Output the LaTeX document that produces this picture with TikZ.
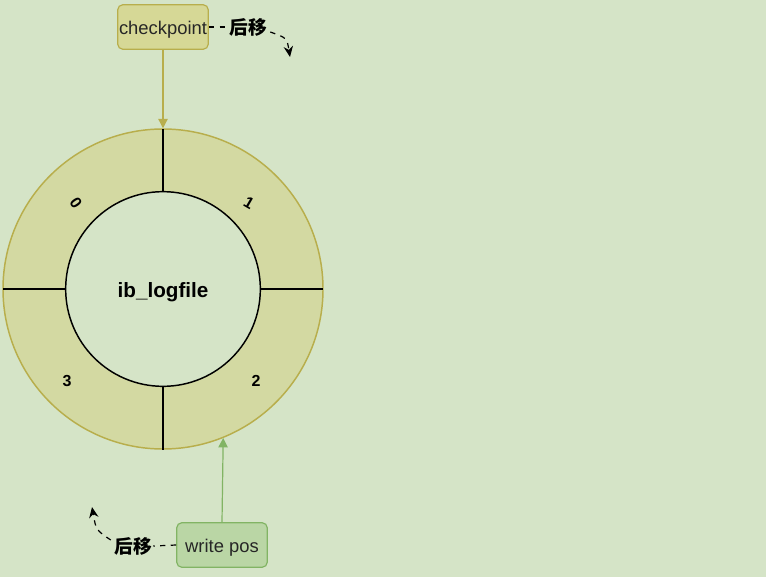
\documentclass[tikz,border=0pt]{standalone}
\usepackage{fontspec}
\setmainfont{Liberation Sans}
\newfontfamily\cjk{Noto Sans CJK SC}
\usetikzlibrary{arrows.meta}
\definecolor{bg}{RGB}{213,228,199}
\definecolor{ringfill}{RGB}{211,217,162}
\definecolor{ringline}{RGB}{184,174,76}
\definecolor{cpfill}{RGB}{214,216,150}
\definecolor{wpfill}{RGB}{186,214,165}
\definecolor{wpline}{RGB}{130,180,100}
\begin{document}
\begin{tikzpicture}[x=0.75pt,y=-0.75pt,
  box/.style={rounded corners=4pt,minimum width=68pt,minimum height=33.5pt,inner sep=0pt,font=\fontsize{13.8}{15}\selectfont,text=black!85,line width=0.9pt,text height=13pt,text depth=2pt},
  seglabel/.style={font=\bfseries\fontsize{12}{14}\selectfont},
  movelabel/.style={font=\cjk\bfseries\fontsize{14}{16}\selectfont,inner sep=1pt},
  dashline/.style={dashed,line width=0.9pt,dash pattern=on 4pt off 4pt},
  divider/.style={line width=0.9pt,black}]
\useasboundingbox[fill=bg] (0,0) rectangle (766,577);
\node[circle,draw=ringline,fill=ringfill,line width=1.1pt,minimum size=240pt,inner sep=0pt] (ring) at (163,289) {};
\draw[divider] (163,129) -- (163,192);
\draw[divider] (163,386) -- (163,450);
\draw[divider] (3,289) -- (66,289);
\draw[divider] (260,289) -- (323,289);
\node[circle,draw=black,fill=bg,line width=1.1pt,minimum size=146pt,inner sep=0pt] (core) at (163,289) {};
\node[font=\bfseries\fontsize{15.5}{17}\selectfont] (corelabel) at (163,292) {ib\_logfile};
\node[seglabel,rotate=-55] (s0) at (76,203) {0};
\node[seglabel,rotate=-30] (s1) at (249,203) {1};
\node[seglabel] (s2) at (256,381) {2};
\node[seglabel] (s3) at (67,381) {3};
\node[box,draw=ringline,fill=cpfill] (cp) at (163,27) {checkpoint};
\node[box,draw=wpline,fill=wpfill] (wp) at (222,545) {write pos};
\draw[ringline,line width=0.9pt,-{Triangle[length=7pt,width=7pt]}] (cp) -- (ring.north);
\draw[wpline,line width=0.9pt,-{Triangle[length=7pt,width=7pt]}] (wp.north) -- (ring.-68.4);
\node[movelabel] (m1) at (248,27) {后移};
\node[movelabel] (m2) at (133,546) {后移};
\coordinate (t1) at (290,57);
\coordinate (t2) at (92,507);
\draw[dashline] (cp.east) -- (m1.west);
\draw[dashline,-{Stealth[length=8pt,width=7pt]}] (m1.east) ++(2,5) .. controls (287,38) .. (t1);
\draw[dashline] (wp.west) -- (m2.east);
\draw[dashline,-{Stealth[length=8pt,width=7pt]}] (m2.west) ++(-2,-6) .. controls (96,530) .. (t2);
\end{tikzpicture}
\end{document}
